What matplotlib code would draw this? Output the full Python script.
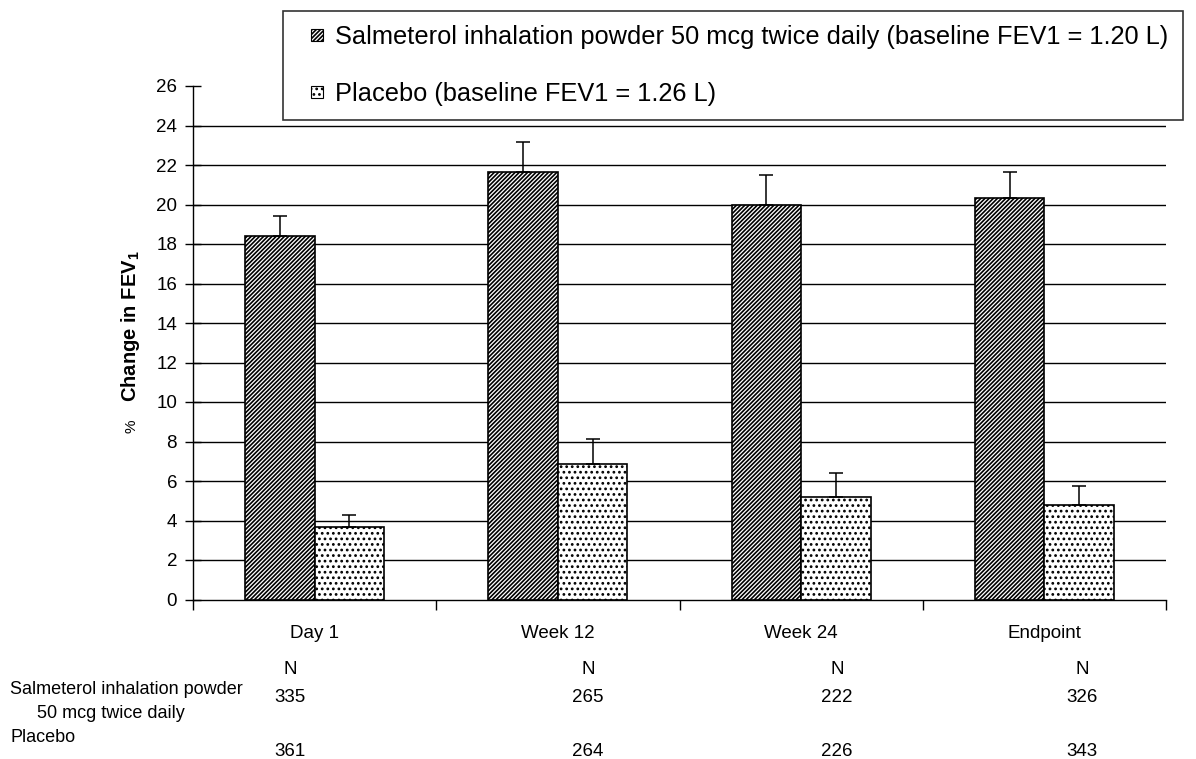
import numpy as np
import matplotlib
matplotlib.use("Agg")
import matplotlib.pyplot as plt
import matplotlib.transforms as mtrans
from matplotlib.patches import Rectangle
from matplotlib.legend_handler import HandlerPatch

# ---------------- data ----------------
categories = ["Day 1", "Week 12", "Week 24", "Endpoint"]
series_names = ["Salmeterol inhalation powder 50 mcg twice daily (baseline FEV1 = 1.20 L)",
                "Placebo (baseline FEV1 = 1.26 L)"]
salmeterol_vals = [18.38, 21.66, 19.95, 20.32]
salmeterol_err = [1.05, 1.52, 1.56, 1.34]
placebo_vals = [3.66, 6.86, 5.17, 4.77]
placebo_err = [0.64, 1.27, 1.21, 0.96]
y_ticks = list(range(0, 27, 2))
row_labels = ["Salmeterol inhalation powder", "50 mcg twice daily", "Placebo"]
n_salmeterol = ["335", "265", "222", "326"]
n_placebo = ["361", "264", "226", "343"]

# ---------------- style ----------------
W, H = 1196, 759
plt.rcParams['font.family'] = ['Liberation Sans', 'DejaVu Sans']
plt.rcParams['hatch.linewidth'] = 1.2
plt.rcParams['mathtext.fontset'] = 'custom'
plt.rcParams['mathtext.rm'] = 'Liberation Sans'
plt.rcParams['mathtext.bf'] = 'Liberation Sans:bold'
tick_fs = 13.5

fig = plt.figure(figsize=(W / 100, H / 100), dpi=100)
fx = lambda px: px / W
fy = lambda py: 1 - py / H
ax = fig.add_axes([fx(193), fy(599.5), fx(1166) - fx(193), fy(86) - fy(599.5)])

x = np.arange(len(categories))
w = 0.286
b1 = ax.bar(x - w / 2, salmeterol_vals, w, facecolor='white', edgecolor='black',
            hatch='////////', linewidth=1.2, zorder=3, label=series_names[0])
b2 = ax.bar(x + w / 2, placebo_vals, w, facecolor='white', edgecolor='black',
            hatch='...', linewidth=1.2, zorder=3, label=series_names[1])
ax.errorbar(x - w / 2, salmeterol_vals, yerr=[np.zeros(4), salmeterol_err], fmt='none',
            ecolor='black', elinewidth=1.1, capsize=5, capthick=1.1, zorder=4)
ax.errorbar(x + w / 2, placebo_vals, yerr=[np.zeros(4), placebo_err], fmt='none',
            ecolor='black', elinewidth=1.1, capsize=5, capthick=1.1, zorder=4)

# gridlines (none at 0 and top)
ax.hlines(y_ticks[1:-1], -0.5, 3.5, colors='black', linewidth=1.0, zorder=1)

ax.set_xlim(-0.5, 3.5)
ax.set_ylim(0, 26)
ax.set_yticks(y_ticks)
ax.tick_params(axis='y', direction='inout', length=11, width=1.0, pad=6, labelsize=tick_fs)

ax.set_xticks(np.arange(-0.5, 4.0, 1.0))
ax.set_xticklabels([])
ax.tick_params(axis='x', which='major', direction='out', length=7, width=1.0)
ax.set_xticks(x, minor=True)
ax.set_xticklabels(categories, minor=True, fontsize=tick_fs)
ax.tick_params(axis='x', which='minor', length=0, pad=18)

for s in ['top', 'right']:
    ax.spines[s].set_visible(False)
for s in ['left', 'bottom']:
    ax.spines[s].set_linewidth(1.0)

# y label
fig.text(fx(131), fy(326), 'Change in FEV$_{\\mathbf{1}}$', rotation=90, ha='center', va='center',
         fontsize=14.5, fontweight='bold')
fig.text(fx(131), fy(426), '%', rotation=90, ha='center', va='center', fontsize=11)

# legend with small square handles
class SquareHandler(HandlerPatch):
    def create_artists(self, legend, orig_handle, xdescent, ydescent, width, height, fontsize, trans):
        s = 8.5
        p = Rectangle((width - s - xdescent, (height - s) / 2 - ydescent), s, s,
                      facecolor='white', edgecolor='black', hatch=orig_handle.get_hatch(),
                      linewidth=0.8, transform=trans)
        return [p]

leg = ax.legend(handles=[b1.patches[0], b2.patches[0]], labels=series_names,
                handler_map={Rectangle: SquareHandler()},
                loc='upper left', bbox_to_anchor=(fx(283), fy(11)), bbox_transform=fig.transFigure,
                borderaxespad=0, borderpad=0.56, labelspacing=1.27, handlelength=1.0,
                handletextpad=0.5, fontsize=18.3, frameon=True, fancybox=False, shadow=False)
leg.get_frame().set_edgecolor('black')
leg.get_frame().set_linewidth(1.2)
leg.set_zorder(10)

# N table below the chart
bt = mtrans.blended_transform_factory(ax.transData, fig.transFigure)
n_cols_x = [-0.101, 1.124, 2.148, 3.155]
for xc, ns, npl in zip(n_cols_x, n_salmeterol, n_placebo):
    ax.text(xc, fy(670), 'N', transform=bt, ha='center', va='center', fontsize=tick_fs)
    ax.text(xc, fy(698), ns, transform=bt, ha='center', va='center', fontsize=tick_fs)
    ax.text(xc, fy(751), npl, transform=bt, ha='center', va='center', fontsize=tick_fs)
fig.text(fx(10), fy(690), row_labels[0], ha='left', va='center', fontsize=13)
fig.text(fx(37), fy(714), row_labels[1], ha='left', va='center', fontsize=13)
fig.text(fx(10), fy(738), row_labels[2], ha='left', va='center', fontsize=13)

fig.savefig('out.png', dpi=100)
